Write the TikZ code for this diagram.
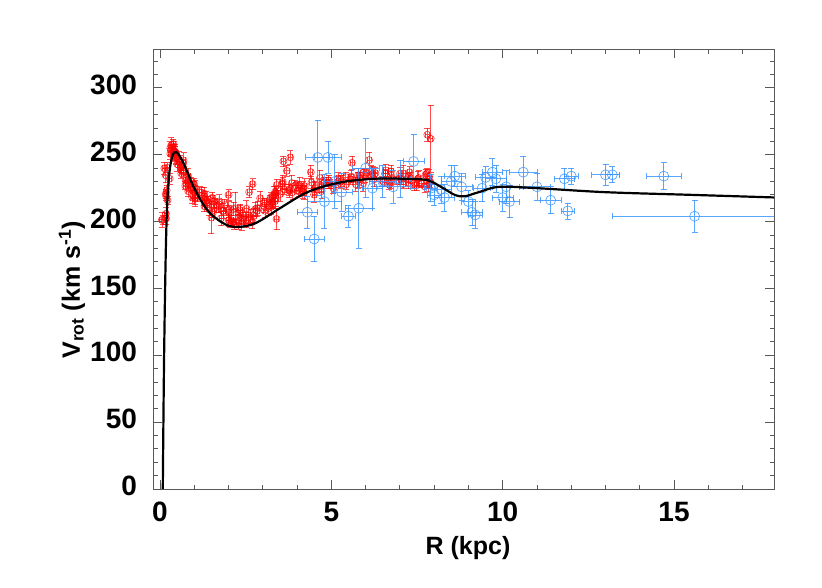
\documentclass[tikz,border=0pt]{standalone}
\usepackage{fontspec}
\setmainfont{Liberation Sans}
\definecolor{dblue}{RGB}{60,150,255}
\begin{document}
\begin{tikzpicture}[x=1pt,y=1pt,
  tk/.style={gray!70!black,line width=0.9pt},
  redpt/.style={red,opacity=0.7,line width=0.7pt},
  bluept/.style={dblue,opacity=0.85,line width=0.7pt},
  curve/.style={black,line width=2.2pt}]
\useasboundingbox (0,0) rectangle (822,587);
\newcommand\datpt[6]{% style, x, v, dx, dv, radius
  \draw[#1] (#2,#3) circle[radius=#6];
  \draw[#1] (#2,#3-#5) -- (#2,#3+#5) (#2-#4,#3) -- (#2+#4,#3);
  \draw[#1] (#2,#3-#5) ++(-3pt,0) -- ++(6pt,0)
            (#2,#3+#5) ++(-3pt,0) -- ++(6pt,0)
            (#2-#4,#3) ++(0,-3pt) -- ++(0,6pt)
            (#2+#4,#3) ++(0,-3pt) -- ++(0,6pt);}
\begin{scope}[x=34.27pt,y=1.337pt,shift={(160pt,98pt)}]
\coordinate (BL) at (-0.19,0);
\coordinate (TR) at (17.92,329);
\begin{scope}
\clip (BL) rectangle (TR);
% red data
\pgfmathsetseed{7}
\foreach \x/\v in {0.1/200,0.15/220,0.2/235,0.3/255,0.4/253,0.5/250,0.6/245,0.7/238,0.8/232,0.9/226,1/222,1.1/220,1.2/218,1.35/215,1.5/212,1.65/210,1.8/207,2/205,2.15/204,2.3/203,2.45/204,2.6/205,2.8/208,3/212,3.15/216,3.3/220,3.45/222,3.6/225,3.8/224,4/223,4.25/224,4.5/225,4.75/227,5/228,5.25/229,5.5/230,5.75/231,6/232,6.25/233,6.5/233,6.75/232,7/232,7.25/231,7.5/231,7.7/232,7.9/232}{
  \foreach \k in {1,...,4}{
    \pgfmathsetmacro\xx{max(0.05,\x+0.1*rand)}
    \pgfmathsetmacro\vv{\v+6*rand}
    \pgfmathsetmacro\dv{3+3*rnd}
    \datpt{redpt}{\xx}{\vv}{0.06}{\dv}{3.5pt}
  }}
\foreach \x/\v/\dv in {7.8/265/5,7.9/262/25,2/220/4,3.6/245/4,3.8/248/5,3.7/238/4,2.6/222/4,2.7/228/4,4.4/237/5,5.6/244/5,6.1/246/6,7.1/236/6,1.5/203/12,2.2/210/12,3.4/202/8,0.4/256/4,0.45/252/4}{
  \datpt{redpt}{\x}{\v}{0.06}{\dv}{3.5pt}}
% blue data
\foreach \x/\v/\dx/\dv in {4.3/207/0.3/12,4.5/187/0.3/17,4.6/248/0.35/28,4.9/248/0.4/12,5.3/222/0.3/14,5.5/204/0.2/8,6/240/0.4/22,6.2/225/0.3/15,6.5/230/0.4/12,7/232/0.3/14,7.4/245/0.3/20,7.9/225/0.2/10,8/220/0.2/8,8.2/224/0.3/10,8.5/230/0.3/12,9/215/0.2/8,9.2/205/0.2/10,9.4/225/0.25/10,9.5/233/0.3/8,9.7/237/0.3/10,9.8/232/0.3/10,10/218/0.3/10,10.1/226/0.4/12,10.2/215/0.3/12,10.6/237/0.4/12,11/226/0.4/10,11.4/216/0.3/10,11.9/208/0.2/6,11.8/232/0.3/8,12/234/0.2/6,13/235/0.4/8,13.2/235/0.2/6,14.7/234/0.5/10,15.6/204/2.4/12,9.1/207/0.3/10,8.8/226/0.3/10,8.6/234/0.3/8,8.3/218/0.3/10,5.8/210/0.4/30,6.8/226/0.5/12,5.1/230/0.3/20,4.8/215/0.5/20}{
  \datpt{bluept}{\x}{\v}{\dx}{\dv}{5pt}}
% model curve
\draw[curve] plot[smooth,tension=0.55] coordinates {(0.08,-5) (0.12,100) (0.18,190) (0.25,230) (0.35,248) (0.48,252) (0.7,243) (1.0,225) (1.4,208) (1.9,198) (2.3,196) (2.8,199) (3.5,210) (4.3,222) (5.2,229) (6.2,232) (7.2,232) (7.8,231) (8.2,226) (8.6,220) (8.9,219) (9.3,222) (9.9,226) (11,225) (13,222) (15.5,220) (18,218)};
\end{scope}
% frame and ticks
\draw[tk] (BL) rectangle (TR);
\foreach \x in {0,...,17}{
  \pgfmathtruncatemacro\m{mod(\x,5)}
  \ifnum\m=0 \def\L{9pt}\else\def\L{4.5pt}\fi
  \draw[tk] (\x,0) -- ++(0,\L) (\x,329) -- ++(0,-\L);}
\foreach \v in {0,10,...,320}{
  \pgfmathtruncatemacro\m{mod(\v,50)}
  \ifnum\m=0 \def\L{9pt}\else\def\L{4.5pt}\fi
  \draw[tk] (-0.19,\v) -- ++(\L,0) (17.92,\v) -- ++(-\L,0);}
\foreach \x in {0,5,10,15}
  \node[font=\fontsize{28}{30}\selectfont\bfseries] (xl\x) at ([yshift=-23pt]\x,0) {\x};
\foreach \v in {0,50,...,300}
  \node[font=\fontsize{28}{30}\selectfont\bfseries,anchor=east] (yl\v) at ([xshift=-13pt,yshift=3pt]-0.19,\v) {\v};
\end{scope}
\node[font=\fontsize{25}{27}\selectfont\bfseries] (xlab) at (468,39) {R (kpc)};
\node[font=\fontsize{25}{27}\selectfont\bfseries,rotate=90] (ylab) at (72,297) {V\textsubscript{rot} (km s\textsuperscript{-1})};
\end{tikzpicture}
\end{document}
